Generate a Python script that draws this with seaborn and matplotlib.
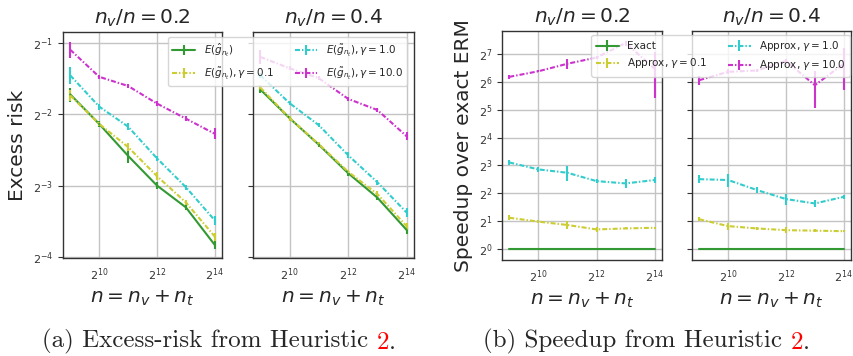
import matplotlib
matplotlib.use("Agg")
import matplotlib.pyplot as plt
import seaborn as sns
from matplotlib.ticker import LogLocator, LogFormatterSciNotation, NullLocator, FixedLocator

# === Datos ===
n_exp = [9, 10, 11, 12, 13, 14]
xtick_exp = [10, 12, 14]
ratios = ["0.2", "0.4"]

# (a) excess risk, orden: exacto, gamma=0.1, gamma=1.0, gamma=10.0
risk_02 = [
    [0.304, 0.228, 0.167, 0.125, 0.101, 0.070],
    [0.301, 0.228, 0.182, 0.137, 0.106, 0.076],
    [0.366, 0.270, 0.222, 0.163, 0.123, 0.089],
    [0.470, 0.361, 0.330, 0.278, 0.240, 0.207],
]
risk_02_err = [
    [0.021, 0.006, 0.011, 0.004, 0.003, 0.003],
    [0.015, 0.005, 0.007, 0.005, 0.003, 0.003],
    [0.030, 0.008, 0.008, 0.004, 0.003, 0.004],
    [0.035, 0.008, 0.006, 0.006, 0.006, 0.011],
]
risk_04 = [
    [0.319, 0.241, 0.186, 0.141, 0.111, 0.081],
    [0.325, 0.241, 0.187, 0.143, 0.115, 0.084],
    [0.366, 0.279, 0.225, 0.168, 0.129, 0.096],
    [0.438, 0.392, 0.356, 0.291, 0.261, 0.202],
]
risk_04_err = [
    [0.010, 0.006, 0.004, 0.004, 0.003, 0.003],
    [0.008, 0.006, 0.004, 0.003, 0.003, 0.003],
    [0.010, 0.006, 0.004, 0.005, 0.003, 0.004],
    [0.030, 0.008, 0.006, 0.006, 0.005, 0.008],
]

# (b) speedup sobre ERM exacto
speed_02 = [
    [1, 1, 1, 1, 1, 1],
    [2.19, 1.99, 1.83, 1.64, 1.68, 1.71],
    [8.63, 7.26, 6.68, 5.43, 5.13, 5.58],
    [72.0, 82.7, 99.7, 116.2, 166.6, 88.0],
]
speed_02_err = [
    [0, 0, 0, 0, 0, 0],
    [0.13, 0.07, 0.19, 0.10, 0.04, 0.05],
    [0.60, 0.45, 1.20, 0.27, 0.55, 0.45],
    [2.9, 2.0, 12.0, 5.0, 10.0, 45.0],
]
speed_04 = [
    [1, 1, 1, 1, 1, 1],
    [2.11, 1.78, 1.68, 1.61, 1.59, 1.57],
    [5.70, 5.58, 4.35, 3.48, 3.12, 3.68],
    [66.3, 81.6, 84.4, 106.9, 58.5, 99.7],
]
speed_04_err = [
    [0, 0, 0, 0, 0, 0],
    [0.10, 0.16, 0.05, 0.11, 0.05, 0.05],
    [0.55, 0.90, 0.30, 0.50, 0.27, 0.20],
    [7.0, 5.0, 3.0, 5.0, 25.0, 48.0],
]

risk_labels = [r"$E(\hat{g}_{n_t})$", r"$E(\tilde{g}_{n_t}), \gamma = 0.1$",
               r"$E(\tilde{g}_{n_t}), \gamma = 1.0$", r"$E(\tilde{g}_{n_t}), \gamma = 10.0$"]
speed_labels = ["Exact", r"Approx, $\gamma = 0.1$", r"Approx, $\gamma = 1.0$", r"Approx, $\gamma = 10.0$"]

colores = ["#339933", "#cccc33", "#33cccc", "#cc33cc"]
dashdot = (2.4, 0.95, 0.7, 0.95)

# === Estilo ===
sns.set_style("whitegrid", {
    "axes.edgecolor": "#333333",
    "grid.color": "#c4c4c4",
    "ytick.left": True,
    "xtick.bottom": False,
    "xtick.color": "#333333",
    "ytick.color": "#333333",
})
plt.rcParams["font.family"] = ["DejaVu Sans"]
plt.rcParams["axes.linewidth"] = 1.0
plt.rcParams["grid.linewidth"] = 1.0

W, H = 854, 356
fig = plt.figure(figsize=(W / 100, H / 100), dpi=100)


def ejes(x0, y0, x1, y1, **kw):
    return fig.add_axes([x0 / W, 1 - y1 / H, (x1 - x0) / W, (y1 - y0) / H], **kw)


def dibujar(ax, vals, errs, labels):
    n = [2.0 ** e for e in n_exp]
    handles = []
    for i, (v, e) in enumerate(zip(vals, errs)):
        cont = ax.errorbar(n, v, yerr=e, color=colores[i], lw=1.5, elinewidth=1.5,
                           capsize=0, label=labels[i])
        if i > 0:
            cont.lines[0].set_dashes(dashdot)
        handles.append(cont)
    ax.set_xscale("log", base=2)
    ax.set_yscale("log", base=2)
    ax.xaxis.set_major_locator(FixedLocator([2.0 ** e for e in xtick_exp]))
    ax.xaxis.set_major_formatter(LogFormatterSciNotation(base=2))
    ax.xaxis.set_minor_locator(NullLocator())
    ax.yaxis.set_major_locator(LogLocator(base=2, numticks=30))
    ax.yaxis.set_major_formatter(LogFormatterSciNotation(base=2))
    ax.yaxis.set_minor_locator(NullLocator())
    ax.tick_params(axis="x", length=0, pad=6, labelsize=8)
    ax.tick_params(axis="y", length=3.5, width=0.8, labelsize=8)
    ax.set_xlabel(r"$n = n_v + n_t$", fontsize=14.5, labelpad=4)
    return handles


# === (a) Excess risk ===
ax1 = ejes(63, 32, 222, 258)
ax2 = ejes(253, 32, 414, 258, sharey=ax1)
h = dibujar(ax1, risk_02, risk_02_err, risk_labels)
dibujar(ax2, risk_04, risk_04_err, risk_labels)
ax1.set_ylim(2 ** -4.02, 2 ** -0.84)
ax1.set_ylabel("Excess risk", fontsize=14.5)
ax2.tick_params(axis="y", labelleft=False)
for ax, r in zip([ax1, ax2], ratios):
    ax.set_title(r"$n_v/n = %s$" % r, fontsize=14.5)
fig.legend(h, risk_labels, loc="upper right", bbox_to_anchor=(407 / W, 1 - 37 / H),
           ncol=2, fontsize=7.5, handlelength=2.2, labelspacing=0.7, borderaxespad=0)

# === (b) Speedup ===
ax3 = ejes(502, 31, 662, 260)
ax4 = ejes(692, 31, 851, 260, sharey=ax3)
h = dibujar(ax3, speed_02, speed_02_err, speed_labels)
dibujar(ax4, speed_04, speed_04_err, speed_labels)
ax3.set_ylim(2 ** -0.38, 2 ** 7.81)
ax3.set_ylabel("Speedup over exact ERM", fontsize=14.5)
ax4.tick_params(axis="y", labelleft=False)
for ax, r in zip([ax3, ax4], ratios):
    ax.set_title(r"$n_v/n = %s$" % r, fontsize=14.5)
fig.legend(h, speed_labels, loc="upper right", bbox_to_anchor=(850 / W, 1 - 35 / H),
           ncol=2, fontsize=7.5, handlelength=2.2, borderaxespad=0)

# === Pies de figura ===
for x0, txt in [(42, "(a) Excess-risk from Heuristic "), (483, "(b) Speedup from Heuristic ")]:
    t1 = fig.text(x0 / W, 1 - 347 / H, txt, family="cmr10", fontsize=18, va="baseline")
    a2 = fig.add_artist(plt.Annotation("2", xy=(1, 0), xycoords=t1, va="bottom",
                                       ha="left", family="cmr10", fontsize=18, color="red"))
    fig.add_artist(plt.Annotation(".", xy=(1, 0), xycoords=a2, va="bottom",
                                  ha="left", family="cmr10", fontsize=18))

fig.savefig("out.png", dpi=100)
